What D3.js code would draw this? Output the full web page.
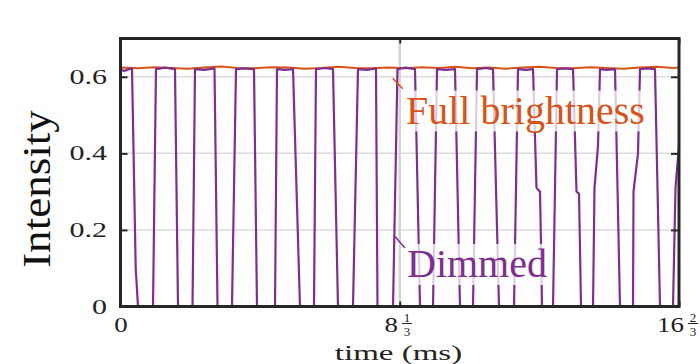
<!DOCTYPE html>
<html>
<head>
<meta charset="utf-8">
<script src="https://cdn.jsdelivr.net/npm/d3@7"></script>
<style>
  body { margin: 0; background: #fff; }
</style>
</head>
<body>
<div id="chart"></div>
<script>
// full brightness trace: [time (ms), intensity]
const fullBrightness = [
  [0, 0.624], [0.5, 0.622], [1.0, 0.625], [1.5, 0.623], [2.0, 0.621], [2.5, 0.624],
  [3.0, 0.627], [3.5, 0.623], [4.0, 0.622], [4.5, 0.625], [5.0, 0.624], [5.5, 0.621],
  [6.0, 0.623], [6.5, 0.626], [7.0, 0.623], [7.5, 0.622], [8.0, 0.624], [8.5, 0.622],
  [9.0, 0.625], [9.5, 0.623], [10.0, 0.626], [10.5, 0.622], [11.0, 0.624], [11.5, 0.621],
  [12.0, 0.624], [12.5, 0.626], [13.0, 0.623], [13.5, 0.622], [14.0, 0.625], [14.5, 0.623],
  [15.0, 0.621], [15.5, 0.624], [16.0, 0.626], [16.5, 0.623], [16.667, 0.624],
];

// dimmed (PWM) trace: [time (ms), intensity]
const dimmed = [
  [0, 0.62], [0.104, 0.615], [0.254, 0.62], [0.343, 0.622], [0.454, 0.10], [0.522, 0],
  [0.970, 0], [1.059, 0.62], [1.33, 0.624], [1.626, 0.62], [1.716, 0],
  [2.149, 0], [2.223, 0.62], [2.5, 0.618], [2.805, 0.622], [2.895, 0],
  [3.327, 0], [3.447, 0.62], [3.7, 0.622], [3.984, 0.62], [4.073, 0],
  [4.611, 0], [4.670, 0.62], [4.9, 0.618], [5.148, 0.62], [5.356, 0],
  [5.774, 0], [5.834, 0.62], [6.1, 0.623], [6.341, 0.62], [6.490, 0],
  [6.938, 0], [7.087, 0.62], [7.35, 0.618], [7.624, 0.622], [7.669, 0],
  [8.132, 0], [8.266, 0.62], [8.5, 0.624], [8.788, 0.62], [8.938, 0],
  [9.326, 0], [9.445, 0.62], [9.7, 0.618], [9.982, 0.62], [10.131, 0],
  [10.519, 0], [10.639, 0.62], [10.9, 0.623], [11.116, 0.62], [11.295, 0],
  [11.743, 0], [11.862, 0.62], [12.1, 0.618], [12.310, 0.62], [12.414, 0.31], [12.519, 0.30], [12.549, 0.16], [12.578, 0],
  [12.907, 0], [13.026, 0.62], [13.25, 0.622], [13.504, 0.62], [13.608, 0.30], [13.683, 0.295], [13.743, 0],
  [14.101, 0], [14.145, 0.31], [14.250, 0.42], [14.309, 0.62], [14.5, 0.618], [14.757, 0.62], [14.906, 0],
  [15.294, 0], [15.309, 0.30], [15.443, 0.40], [15.503, 0.62], [15.7, 0.622], [15.950, 0.62], [16.100, 0],
  [16.488, 0], [16.562, 0.31], [16.667, 0.42],
];

const yTicks = [0, 0.2, 0.4, 0.6];
const yTickLabels = ['0', '0.2', '0.4', '0.6'];
const xTicks = [0, 25 / 3, 50 / 3];
const xTickLabels = [
  { whole: '0' },
  { whole: '8', num: '1', den: '3' },
  { whole: '16', num: '2', den: '3' },
];
const seriesNames = ['Full brightness', 'Dimmed'];
const colors = { full: '#D95319', dimmed: '#7E2F8E', axis: '#262626', grid: '#dcdcdc' };

const width = 700;
const height = 364;
const serif = "'Liberation Serif', 'Times New Roman', serif";
const tickFont = "'Liberation Serif', serif";

const x = d3.scaleLinear().domain([0, 50 / 3]).range([120.5, 679]);
const y = d3.scaleLinear().domain([0, 0.7]).range([306.5, 38.5]);

const svg = d3.select('#chart')
  .append('svg')
  .attr('width', width)
  .attr('height', height)
  .attr('viewBox', [0, 0, width, height]);

svg.append('rect').attr('width', width).attr('height', height).attr('fill', '#fff');

// stretch a text element horizontally, like the (widened) original
const stretch = (sel, k) => sel.each(function () {
  const w = this.getComputedTextLength();
  d3.select(this).attr('textLength', w * k).attr('lengthAdjust', 'spacingAndGlyphs');
});

// grid
svg.append('g')
  .selectAll('line')
  .data(yTicks.filter((d) => d > 0))
  .join('line')
  .attr('x1', x.range()[0])
  .attr('x2', x.range()[1])
  .attr('y1', (d) => y(d))
  .attr('y2', (d) => y(d))
  .attr('stroke', colors.grid)
  .attr('stroke-width', 1.5);

svg.append('line')
  .attr('x1', x(xTicks[1]))
  .attr('x2', x(xTicks[1]))
  .attr('y1', y.range()[1])
  .attr('y2', y.range()[0])
  .attr('stroke', '#d4d4d4')
  .attr('stroke-width', 2.5);

// lines
const line = d3.line().x((d) => x(d[0])).y((d) => y(d[1]));

svg.append('path')
  .datum(fullBrightness)
  .attr('fill', 'none')
  .attr('stroke', colors.full)
  .attr('stroke-width', 2)
  .attr('stroke-linejoin', 'round')
  .attr('d', line);

svg.append('path')
  .datum(dimmed)
  .attr('fill', 'none')
  .attr('stroke', colors.dimmed)
  .attr('stroke-width', 2.2)
  .attr('stroke-linejoin', 'round')
  .attr('d', line);

// axes
const styleAxis = (g) => g
  .call((a) => a.select('.domain').remove())
  .call((a) => a.selectAll('.tick line').attr('stroke', colors.axis).attr('stroke-width', 2));

svg.append('g')
  .attr('transform', `translate(${x.range()[0]},0)`)
  .call(d3.axisLeft(y).tickValues(yTicks).tickSize(-7).tickPadding(13.5)
    .tickFormat((d, i) => yTickLabels[i]))
  .call(styleAxis)
  .call((g) => g.selectAll('.tick text')
    .attr('font-family', tickFont)
    .attr('font-size', 20)
    .attr('fill', '#222')
    .attr('dy', 6.5)
    .call(stretch, 1.5));

svg.append('g')
  .attr('transform', `translate(${x.range()[1]},0)`)
  .call(d3.axisRight(y).tickValues(yTicks).tickSize(-8).tickFormat(''))
  .call(styleAxis);

svg.append('g')
  .attr('transform', `translate(0,${y.range()[1]})`)
  .call(d3.axisTop(x).tickValues(xTicks).tickSize(-5).tickFormat(''))
  .call(styleAxis);

const xAxis = svg.append('g')
  .attr('transform', `translate(0,${y.range()[0]})`)
  .call(d3.axisBottom(x).tickValues(xTicks).tickSize(-5).tickFormat(''))
  .call(styleAxis);

xAxis.selectAll('.tick').each(function (d, i) {
  const lab = xTickLabels[i];
  const tick = d3.select(this);
  const whole = tick.append('text')
    .attr('font-family', tickFont)
    .attr('font-size', 21)
    .attr('fill', '#222')
    .attr('y', 25)
    .attr('text-anchor', 'start')
    .text(lab.whole)
    .call(stretch, 1.28);
  const w = +whole.attr('textLength');
  if (!lab.num) {
    whole.attr('x', -w / 2);
    return;
  }
  const fw = 10;
  const start = -(w + 4 + fw) / 2 - 2;
  whole.attr('x', start);
  const cx = start + w + 4 + fw / 2;
  const frac = tick.append('g').attr('font-family', tickFont).attr('font-size', 13)
    .attr('fill', '#222').attr('text-anchor', 'middle');
  frac.append('text').attr('x', cx).attr('y', 15).text(lab.num);
  frac.append('text').attr('x', cx).attr('y', 29.5).text(lab.den);
  frac.append('line')
    .attr('x1', cx - fw / 2).attr('x2', cx + fw / 2)
    .attr('y1', 17).attr('y2', 17)
    .attr('stroke', '#222').attr('stroke-width', 1);
});

// frame
svg.append('rect')
  .attr('x', x.range()[0])
  .attr('y', y.range()[1])
  .attr('width', x.range()[1] - x.range()[0])
  .attr('height', y.range()[0] - y.range()[1])
  .attr('fill', 'none')
  .attr('stroke', colors.axis)
  .attr('stroke-width', 3);

// axis titles
svg.append('text')
  .attr('x', 398.5)
  .attr('y', 360)
  .attr('text-anchor', 'middle')
  .attr('font-family', tickFont)
  .attr('font-size', 22)
  .attr('fill', '#222')
  .text('time (ms)')
  .call(stretch, 1.5);

svg.append('text')
  .attr('transform', 'translate(50,189) rotate(-90)')
  .attr('text-anchor', 'middle')
  .attr('font-family', serif)
  .attr('font-size', 41)
  .attr('fill', '#111')
  .text('Intensity')
  .call(stretch, 1.1);

// annotations
const annotations = [
  { name: seriesNames[0], color: colors.full, from: [392.7, 78.3], to: [402.7, 88.8], tx: 406, ty: 123.5 },
  { name: seriesNames[1], color: colors.dimmed, from: [395, 236.5], to: [405, 248], tx: 407, ty: 277 },
];

annotations.forEach((a) => {
  const g = svg.append('g');
  const bg = g.append('rect').attr('fill', '#fff').attr('fill-opacity', 0.75);
  const t = g.append('text')
    .attr('x', a.tx)
    .attr('y', a.ty)
    .attr('font-family', serif)
    .attr('font-size', 40)
    .attr('fill', a.color)
    .text(a.name);
  const b = t.node().getBBox();
  bg.attr('x', b.x - 2).attr('y', b.y + 3).attr('width', b.width + 4).attr('height', b.height - 4);
  g.append('line')
    .attr('x1', a.from[0]).attr('y1', a.from[1])
    .attr('x2', a.to[0]).attr('y2', a.to[1])
    .attr('stroke', a.color)
    .attr('stroke-width', 1.5);
});
</script>
</body>
</html>
